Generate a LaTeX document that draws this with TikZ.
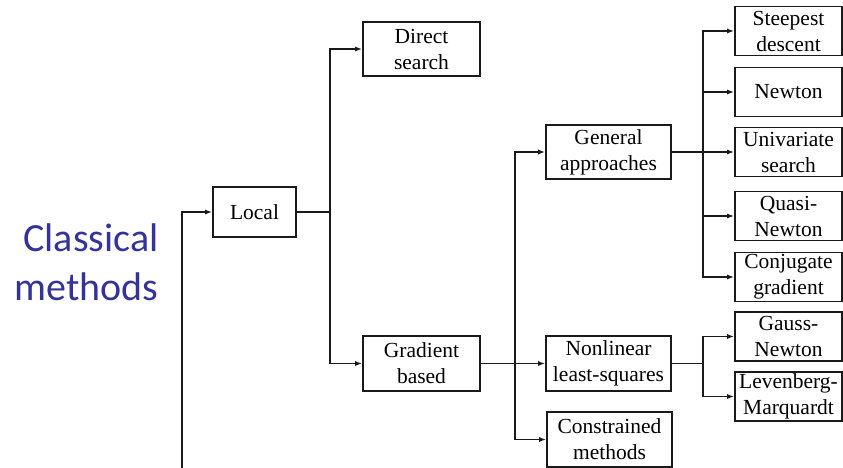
\documentclass[tikz,border=0pt]{standalone}
\usepackage{fontspec}
\setmainfont{Liberation Serif}
\newfontfamily\calibri{Carlito}
\usepackage{tikz}
\usetikzlibrary{arrows.meta}
\definecolor{titlecolor}{HTML}{333399}
\definecolor{linecolor}{HTML}{1a1a1a}
\tikzset{
    box/.style={draw=linecolor, line width=1.6pt, align=center, inner sep=0pt,
        font=\fontsize{21.5}{26}\selectfont},
    wide/.style={box, minimum width=117pt, minimum height=54pt},
    mid/.style={box, minimum width=125pt, minimum height=54pt},
    leaf/.style={box, minimum width=107pt, minimum height=49pt},
    arr/.style={draw=linecolor, line width=1.5pt, -{Latex[length=7pt,width=5pt]}},
    link/.style={draw=linecolor, line width=1.5pt}
}

\begin{document}
\begin{tikzpicture}[x=1pt, y=-1pt]
        \useasboundingbox (0,0) rectangle (843,468);

        \node[anchor=east, align=right, text=titlecolor,
            font=\calibri\fontsize{40}{49}\selectfont] (classical) at (162,262) {Classical\\methods};

        \node[box, minimum width=83pt, minimum height=50pt] (local) at (254.5,212) {Local};
        \node[wide] (direct) at (421.5,49) {Direct\\search};
        \node[wide, minimum height=55pt] (gradient) at (421.5,363.5) {Gradient\\based};

        \node[mid] (general) at (608.5,152) {General\\approaches};
        \node[mid, minimum height=55pt] (nonlinear) at (608.5,363.5) {Nonlinear\\least-squares};
        \node[mid, minimum height=55pt] (constrained) at (609.5,439.5) {Constrained\\methods};

        \node[leaf] (steepest) at (788.5,31) {Steepest\\descent};
        \node[leaf] (newton) at (788.5,92) {Newton};
        \node[leaf] (univariate) at (788.5,152) {Univariate\\search};
        \node[leaf] (quasi) at (788.5,216) {Quasi-\\Newton};
        \node[leaf] (conjugate) at (788.5,277) {Conjugate\\gradient};
        \node[leaf] (gauss) at (788.5,336.5) {Gauss-\\Newton};
        \node[leaf] (levenberg) at (788.5,396.5) {Levenberg-\\Marquardt};

        % branch points
        \coordinate (root) at (182,468);
        \coordinate (forkLocal) at (330,212);
        \coordinate (forkGradient) at (515,363.5);
        \coordinate (forkGeneral) at (703,152);
        \coordinate (forkNonlinear) at (703,363.5);

        \draw[arr] (root) |- (local.west);

        \draw[link] (local.east) -- (forkLocal);
        \draw[arr] (forkLocal) |- (direct.west);
        \draw[arr] (forkLocal) |- (gradient.west);

        \draw[arr] (gradient.east) -- (nonlinear.west);
        \draw[arr] (forkGradient) |- (general.west);
        \draw[arr] (forkGradient) |- (constrained.west);

        \draw[arr] (general.east) -- (univariate.west);
        \draw[arr] (forkGeneral) |- (steepest.west);
        \draw[arr] (forkGeneral) |- (newton.west);
        \draw[arr] (forkGeneral) |- (quasi.west);
        \draw[arr] (forkGeneral) |- (conjugate.west);

        \draw[link] (nonlinear.east) -- (forkNonlinear);
        \draw[arr] (forkNonlinear) |- (gauss.west);
        \draw[arr] (forkNonlinear) |- (levenberg.west);
    \end{tikzpicture}
\end{document}
